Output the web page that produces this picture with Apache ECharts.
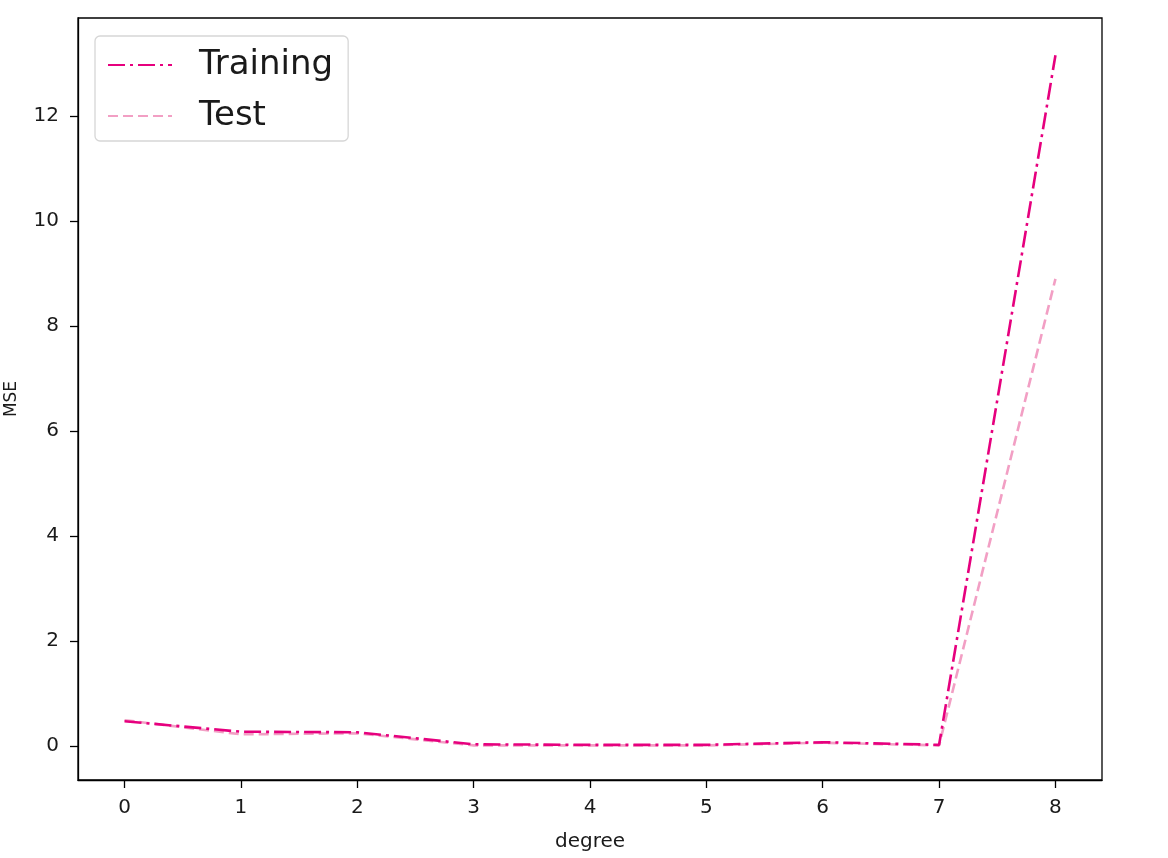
<!DOCTYPE html>
<html>
<head>
<meta charset="utf-8">
<script src="https://cdn.jsdelivr.net/npm/echarts@6/dist/echarts.min.js"></script>
<style>
  html, body { margin: 0; padding: 0; background: #fff; }
  #chart { width: 1168px; height: 858px; }
</style>
</head>
<body>
<div id="chart"></div>
<script>
  // polynomial degree vs MSE
  var degrees = [0, 1, 2, 3, 4, 5, 6, 7, 8];
  var trainingMse = [0.47, 0.27, 0.26, 0.03, 0.02, 0.02, 0.07, 0.02, 13.16];
  var testMse = [0.49, 0.22, 0.24, 0.01, 0.01, 0.01, 0.06, 0.01, 8.9];
  var xTicks = [0, 1, 2, 3, 4, 5, 6, 7, 8];
  var yTicks = [0, 2, 4, 6, 8, 10, 12];

  var chart = echarts.init(document.getElementById('chart'));

  function pairs(ys) {
    return degrees.map(function (d, i) { return [d, ys[i]]; });
  }

  var font = 'DejaVu Sans';
  var option = {
    backgroundColor: '#fff',
    animation: false,
    grid: {
      left: 78, right: 66, top: 18, bottom: 78,
      outerBoundsMode: 'none',
      containLabel: false,
      show: true,
      borderColor: '#000',
      borderWidth: 1.3
    },
    legend: {
      orient: 'vertical',
      left: 95,
      top: 36,
      padding: [12, 15, 8, 12],
      itemGap: 17,
      itemWidth: 64,
      itemHeight: 28,
      itemStyle: { opacity: 0 },
      backgroundColor: '#fff',
      borderColor: '#d6d6d6',
      borderWidth: 1.3,
      borderRadius: 5,
      textStyle: {
        fontFamily: font,
        fontSize: 34,
        color: '#1a1a1a',
        padding: [0, 0, 0, 22]
      },
      data: ['Training', 'Test']
    },
    xAxis: {
      type: 'value',
      min: -0.4,
      max: 8.4,
      name: 'degree',
      nameLocation: 'middle',
      nameGap: 52,
      nameTextStyle: { fontFamily: font, fontSize: 20, color: '#1a1a1a' },
      splitLine: { show: false },
      axisLine: { show: true, onZero: false, lineStyle: { color: '#000', width: 1.3 } },
      axisTick: { show: true, inside: false, length: 8, lineStyle: { color: '#000', width: 1.3 }, customValues: xTicks },
      axisLabel: { fontFamily: font, fontSize: 20, color: '#1a1a1a', margin: 18, customValues: xTicks }
    },
    yAxis: {
      type: 'value',
      min: -0.65,
      max: 13.87,
      name: 'MSE',
      nameLocation: 'middle',
      nameGap: 58,
      nameTextStyle: { fontFamily: font, fontSize: 17, color: '#1a1a1a' },
      splitLine: { show: false },
      axisLine: { show: true, onZero: false, lineStyle: { color: '#000', width: 1.3 } },
      axisTick: { show: true, inside: false, length: 8, lineStyle: { color: '#000', width: 1.3 }, customValues: yTicks },
      axisLabel: { fontFamily: font, fontSize: 20, color: '#1a1a1a', margin: 19, customValues: yTicks }
    },
    series: [
      {
        name: 'Training',
        type: 'line',
        symbol: 'none',
        data: pairs(trainingMse),
        itemStyle: { color: '#e6007e' },
        lineStyle: { color: '#e6007e', width: 2.6, type: [17, 5, 3, 5] },
        z: 3
      },
      {
        name: 'Test',
        type: 'line',
        symbol: 'none',
        data: pairs(testMse),
        itemStyle: { color: '#f29fc4' },
        lineStyle: { color: '#f29fc4', width: 2.6, type: [10, 5] },
        z: 2
      }
    ]
  };
  chart.setOption(option);
</script>
</body>
</html>
